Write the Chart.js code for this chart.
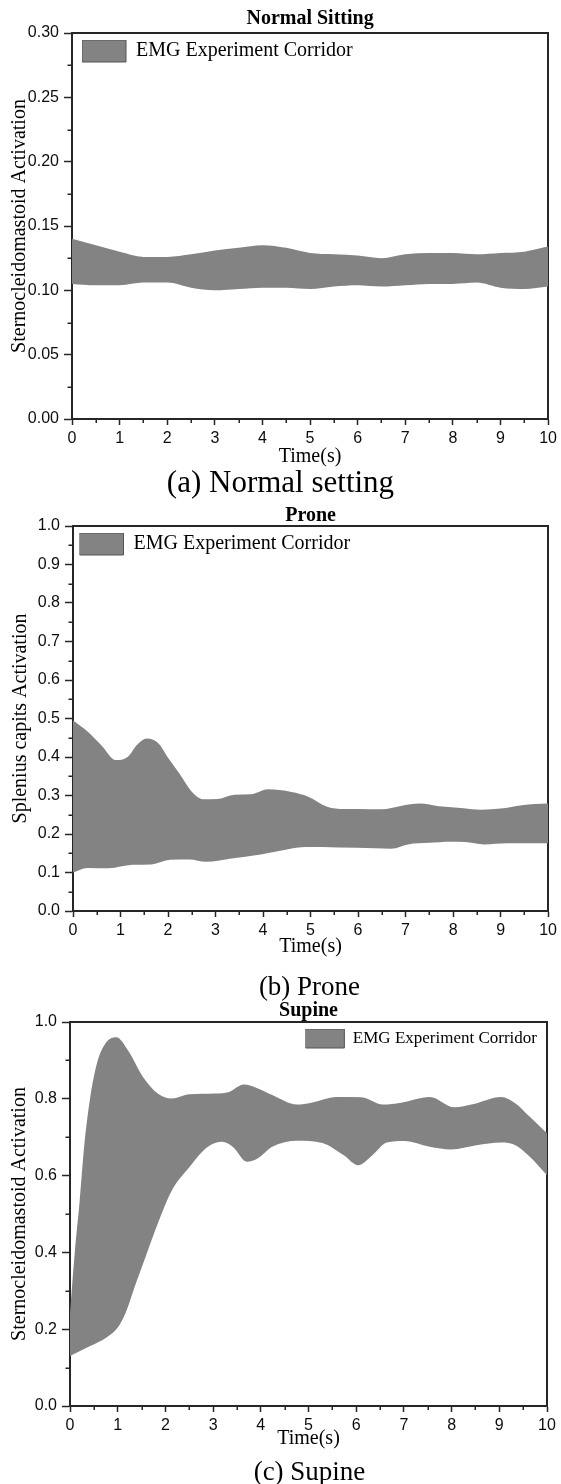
<!DOCTYPE html>
<html><head><meta charset="utf-8">
<script src="https://cdn.jsdelivr.net/npm/chart.js@4.4.1/dist/chart.umd.min.js"></script>
<style>
html,body{margin:0;padding:0;background:#fff;}
body{width:561px;height:1484px;position:relative;overflow:hidden;}
canvas{position:absolute;left:0;}
.cap{position:absolute;width:561px;text-align:center;font-family:'Liberation Serif','Times New Roman',serif;color:#000;white-space:nowrap;}
</style></head><body>
<canvas id="c1" width="561" height="470" style="top:0px"></canvas>
<div class="cap" style="top:464px;left:0px;font-size:31px;line-height:36px;">(a) Normal setting</div>
<canvas id="c2" width="561" height="460" style="top:500px"></canvas>
<div class="cap" style="top:971px;left:29px;font-size:27px;line-height:30px;">(b) Prone</div>
<canvas id="c3" width="561" height="460" style="top:995px"></canvas>
<div class="cap" style="top:1456px;left:29px;font-size:27px;line-height:30px;">(c) Supine</div>
<script>
// ---------- data ----------
const timeTickLabels = ['0','1','2','3','4','5','6','7','8','9','10'];
const legendLabel = 'EMG Experiment Corridor';

// (a) Normal sitting
const sitYTickLabels = ['0.00','0.05','0.10','0.15','0.20','0.25','0.30'];
const sitTime = [0,0.5,1,1.5,2,2.5,3,3.5,4,4.5,5,5.5,6,6.5,7,7.5,8,8.5,9,9.5,10];
const sitUpper = [0.140,0.135,0.130,0.126,0.126,0.128,0.131,0.133,0.135,0.133,0.129,0.128,0.127,0.125,0.128,0.129,0.129,0.128,0.129,0.130,0.134];
const sitLower = [0.105,0.104,0.104,0.106,0.106,0.102,0.100,0.101,0.102,0.102,0.101,0.103,0.104,0.103,0.104,0.105,0.105,0.106,0.102,0.101,0.103];

// (b) Prone
const proneYTickLabels = ['0.0','0.1','0.2','0.3','0.4','0.5','0.6','0.7','0.8','0.9','1.0'];
const proneUpperTime = [0,0.3,0.6,0.9,1.15,1.35,1.55,1.8,2.0,2.25,2.5,2.75,3.05,3.4,3.75,4.1,4.6,4.95,5.35,5.7,6.0,6.5,6.9,7.3,7.7,8.1,8.6,9.0,9.45,10];
const proneUpper = [0.495,0.467,0.43,0.392,0.40,0.432,0.448,0.435,0.398,0.355,0.31,0.29,0.291,0.302,0.303,0.316,0.309,0.297,0.271,0.265,0.265,0.264,0.273,0.279,0.272,0.268,0.263,0.266,0.275,0.279];
const proneLowerTime = [0,0.3,0.75,1.25,1.65,2.05,2.45,2.8,3.3,3.95,4.5,4.9,5.6,6.35,6.7,7.05,7.5,7.95,8.25,8.65,9.15,10];
const proneLower = [0.100,0.112,0.111,0.120,0.121,0.133,0.134,0.128,0.136,0.147,0.160,0.166,0.165,0.163,0.162,0.173,0.177,0.180,0.179,0.173,0.176,0.176];

// (c) Supine
const supYTickLabels = ['0.0','0.2','0.4','0.6','0.8','1.0'];
const supUpperTime = [0,0.1,0.2,0.3,0.42,0.56,0.75,0.97,1.23,1.53,1.84,2.13,2.51,3.04,3.34,3.64,3.94,4.24,4.76,5.06,5.59,6.11,6.56,6.94,7.54,8.06,8.44,9.04,9.34,9.64,10];
const supUpper = [0.24,0.40,0.53,0.68,0.80,0.89,0.945,0.960,0.923,0.857,0.814,0.801,0.812,0.814,0.818,0.837,0.827,0.810,0.785,0.790,0.805,0.804,0.785,0.790,0.805,0.778,0.786,0.805,0.788,0.753,0.710];
const supLowerTime = [0,0.4,0.78,1.01,1.16,1.38,1.61,1.84,2.13,2.51,2.89,3.19,3.41,3.71,3.94,4.24,4.76,5.29,5.74,6.04,6.34,6.64,7.01,7.54,7.99,8.52,9.04,9.34,9.64,10];
const supLower = [0.13,0.155,0.18,0.206,0.241,0.319,0.397,0.475,0.56,0.623,0.675,0.688,0.675,0.636,0.645,0.675,0.691,0.685,0.653,0.627,0.653,0.686,0.690,0.675,0.668,0.679,0.686,0.679,0.649,0.601];

// ---------- styling ----------
const FILL = '#838383';
const AXIS = '#262626';
const TICKTXT = '#0d0d0d';
const SERIF = "'Liberation Serif','Times New Roman',serif";
const SANS = "'Liberation Sans',Arial,sans-serif";

const frameAndMinor = {
  id: 'frameAndMinor',
  afterDraw(chart) {
    const ctx = chart.ctx, xs = chart.scales.x, ys = chart.scales.y, ca = chart.chartArea;
    ctx.save();
    ctx.strokeStyle = AXIS; ctx.lineWidth = 1.5;
    ctx.beginPath();
    const xt = xs.ticks.map(t => t.value);
    for (let i = 0; i < xt.length - 1; i++) {
      const px = Math.round(xs.getPixelForValue((xt[i] + xt[i+1]) / 2)) + 0.25;
      ctx.moveTo(px, ca.bottom); ctx.lineTo(px, ca.bottom + 4);
    }
    const yt = ys.ticks.map(t => t.value);
    for (let i = 0; i < yt.length - 1; i++) {
      const py = Math.round(ys.getPixelForValue((yt[i] + yt[i+1]) / 2)) + 0.25;
      ctx.moveTo(ca.left, py); ctx.lineTo(ca.left - 4.5, py);
    }
    ctx.stroke();
    ctx.restore();
  }
};

const legendPlace = {
  id: 'legendPlace',
  afterLayout(chart, args, opts) {
    const lg = chart.legend; if (!lg || !lg.columnSizes) return;
    const ca = chart.chartArea;
    if (opts.right != null) lg.left = ca.right - opts.right - lg.columnSizes[0].width;
    else lg.left = ca.left + opts.dx;
    lg.top = ca.top + opts.dy;
  }
};

function makeChart(id, p) {
  const H = p.H;
  const datasets = [
    { label: legendLabel, data: p.tu.map((t, i) => ({x: t, y: p.vu[i]})),
      fill: '+1', backgroundColor: FILL, borderWidth: 0, pointRadius: 0, cubicInterpolationMode: 'monotone' },
    { label: 'lower', data: p.tl.map((t, i) => ({x: t, y: p.vl[i]})),
      fill: false, backgroundColor: FILL, borderWidth: 0, pointRadius: 0, cubicInterpolationMode: 'monotone' }
  ];
  const ylabels = p.yLabels;
  return new Chart(document.getElementById(id), {
    type: 'line',
    data: { datasets },
    options: {
      responsive: false, animation: false, devicePixelRatio: 1, events: [],
      layout: { padding: 0 },
      plugins: {
        tooltip: { enabled: false },
        title: { display: false },
        legend: {
          display: true, position: 'chartArea', align: 'start',
          labels: {
            boxWidth: p.lgBox[0], boxHeight: p.lgBox[1], padding: 0,
            color: '#000', font: { family: SERIF, size: p.lgFont },
            generateLabels: () => [{ text: legendLabel, fillStyle: FILL, strokeStyle: '#555', lineWidth: 1, hidden: false, datasetIndex: 0, fontColor: '#000' }]
          }
        },
        legendPlace: p.lgPlace
      },
      scales: {
        x: {
          type: 'linear', position: 'bottom', min: 0, max: 10,
          afterBuildTicks: s => { s.ticks = timeTickLabels.map(l => ({ value: parseFloat(l) })); },
          ticks: { callback: (v, i) => timeTickLabels[i], color: TICKTXT, font: { family: SANS, size: 16 }, padding: 4, maxRotation: 0, autoSkip: false },
          grid: { drawOnChartArea: false, drawTicks: true, tickLength: 6, tickWidth: 1.5, tickColor: AXIS },
          border: { display: true, color: AXIS, width: 2 },
          title: { display: true, text: 'Time(s)', color: '#000', font: { family: SERIF, size: 20 }, padding: { top: 0, bottom: p.xTitlePad } },
          afterFit: s => { s.height = H - p.area.bottom; }
        },
        xTop: {
          type: 'linear', position: 'top', min: 0, max: 10, display: true,
          ticks: { display: false },
          grid: { drawOnChartArea: false, drawTicks: false },
          border: { display: true, color: AXIS, width: 2 },
          title: { display: true, text: p.title, color: '#000', font: { family: SERIF, size: 20, weight: 'bold' }, padding: { top: p.titlePad, bottom: 0 } },
          afterFit: s => { s.height = p.area.top; }
        },
        y: {
          type: 'linear', position: 'left', min: 0, max: p.yMax,
          afterBuildTicks: s => { s.ticks = ylabels.map(l => ({ value: parseFloat(l) })); },
          ticks: { callback: (v, i) => ylabels[i], color: TICKTXT, font: { family: SANS, size: 16 }, padding: 5, autoSkip: false },
          grid: { drawOnChartArea: false, drawTicks: true, tickLength: 8, tickWidth: 1.5, tickColor: AXIS },
          border: { display: true, color: AXIS, width: 2 },
          title: { display: true, text: p.yTitle, color: '#000', font: { family: SERIF, size: 20 }, padding: { top: p.yTitlePad, bottom: 0 } },
          afterFit: s => { s.width = p.area.left; }
        },
        yRight: {
          type: 'linear', position: 'right', min: 0, max: p.yMax, display: true,
          ticks: { display: false },
          grid: { drawOnChartArea: false, drawTicks: false },
          border: { display: true, color: AXIS, width: 2 },
          afterFit: s => { s.width = 561 - p.area.right; }
        }
      }
    },
    plugins: [frameAndMinor, legendPlace]
  });
}

makeChart('c1', {
  H: 470, area: { left: 72, top: 33, right: 551, bottom: 419 },
  tu: sitTime, vu: sitUpper, tl: sitTime, vl: sitLower,
  yMax: 0.30, yLabels: sitYTickLabels, yTitle: 'Sternocleidomastoid Activation', title: 'Normal Sitting',
  titlePad: 7, xTitlePad: 1, yTitlePad: 8,
  lgBox: [44, 22], lgFont: 20, lgPlace: { dx: 10, dy: 7 }
});
makeChart('c2', {
  H: 460, area: { left: 73, top: 26, right: 549, bottom: 411 },
  tu: proneUpperTime, vu: proneUpper, tl: proneLowerTime, vl: proneLower,
  yMax: 1.0, yLabels: proneYTickLabels, yTitle: 'Splenius capits Activation', title: 'Prone',
  titlePad: 4, xTitlePad: 1, yTitlePad: 9,
  lgBox: [44, 22], lgFont: 20, lgPlace: { dx: 6.5, dy: 7 }
});
makeChart('c3', {
  H: 460, area: { left: 70, top: 27, right: 547, bottom: 411 },
  tu: supUpperTime, vu: supUpper, tl: supLowerTime, vl: supLower,
  yMax: 1.0, yLabels: supYTickLabels, yTitle: 'Sternocleidomastoid Activation', title: 'Supine',
  titlePad: 4, xTitlePad: 4, yTitlePad: 8,
  lgBox: [39, 19], lgFont: 17, lgPlace: { right: 10, dy: 7 }
});
</script>
</body></html>
